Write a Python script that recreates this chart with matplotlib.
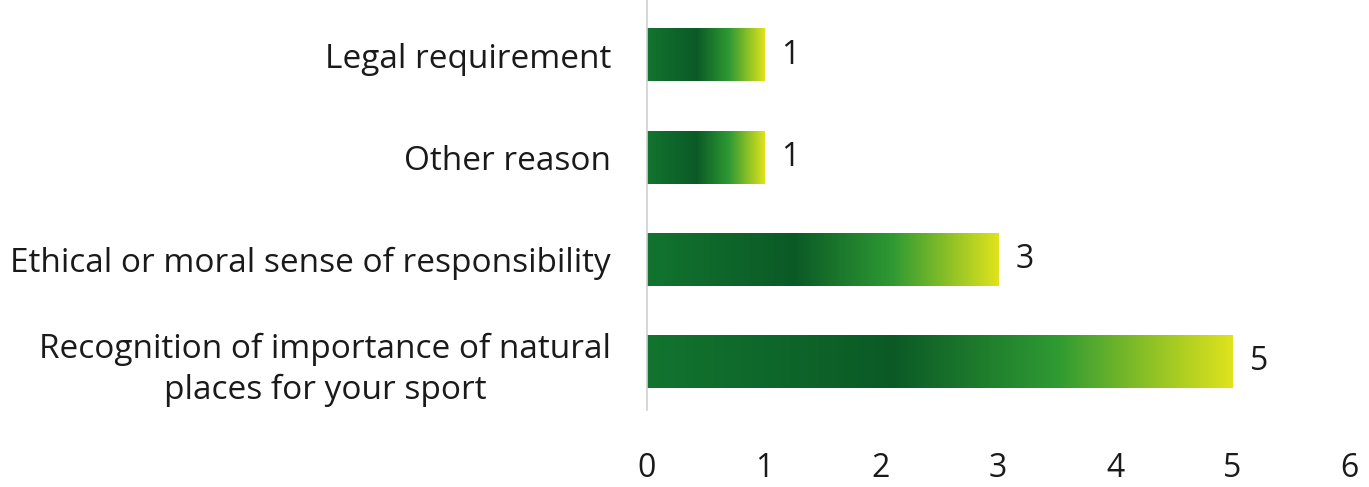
import numpy as np
import matplotlib
matplotlib.use('Agg')
import matplotlib.pyplot as plt
from matplotlib.colors import LinearSegmentedColormap

categories = ['Recognition of importance of natural\nplaces for your sport',
              'Ethical or moral sense of responsibility',
              'Other reason',
              'Legal requirement']
values = [5, 3, 1, 1]

plt.rcParams['font.family'] = ['Open Sans', 'DejaVu Sans']

# green -> yellow gradient along each bar
cmap = LinearSegmentedColormap.from_list(
    'greenbar', [(0.0, '#12742f'), (0.42, '#0b5a26'), (0.7, '#2f9a33'), (1.0, '#dfe31c')])

fig = plt.figure(figsize=(13.69, 4.87), dpi=100)
ax = fig.add_axes([0.4726, 0.158, 0.5128, 0.842])

bar_h = 0.51
grad = np.linspace(0, 1, 256).reshape(1, -1)
pos = np.arange(len(categories))
for y, v in zip(pos, values):
    ax.imshow(grad, cmap=cmap, aspect='auto', interpolation='bilinear',
              extent=[0, v, y - bar_h / 2, y + bar_h / 2], zorder=2)
    ax.text(v + 0.15, y, str(v), va='center', ha='left', fontsize=23, color='#1a1a1a')

ax.set_xlim(0, 6)
ax.set_ylim(-0.47, 3.54)
ax.set_yticks(pos)
ax.set_yticklabels(categories, fontsize=24, color='#1a1a1a', linespacing=1.3)
for lab in ax.get_yticklabels():
    lab.set_multialignment('center')
ax.tick_params(axis='y', length=0, pad=26)
ax.set_xticks(range(7))
ax.tick_params(axis='x', length=0, labelsize=23, labelcolor='#1a1a1a', pad=30)

for s in ['top', 'right', 'bottom']:
    ax.spines[s].set_visible(False)
ax.spines['left'].set_color('#d0d0d0')
ax.spines['left'].set_linewidth(1.2)

fig.savefig('out.png', dpi=100)
